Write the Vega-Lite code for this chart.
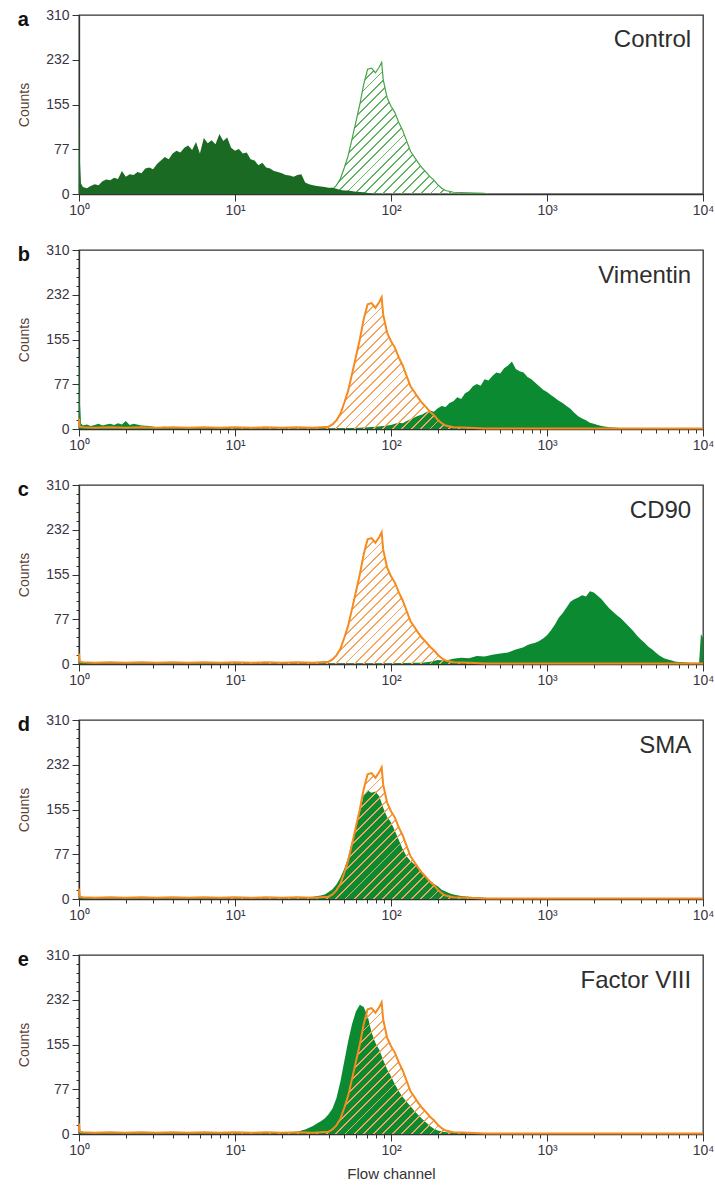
{
"$schema":"https://vega.github.io/schema/vega-lite/v6.json",
"background":"white",
"padding":{"left":16,"top":7,"right":5,"bottom":5},
"spacing":24,
"datasets":{
"iso":[{"channel":1,"count":18},{"channel":1.012,"count":4},{"channel":1.059,"count":3},{"channel":1.259,"count":2},{"channel":1.585,"count":3},{"channel":1.995,"count":2},{"channel":2.512,"count":3},{"channel":3.162,"count":2},{"channel":3.981,"count":3},{"channel":5.012,"count":2},{"channel":6.31,"count":3},{"channel":7.943,"count":2},{"channel":10,"count":3},{"channel":12.59,"count":2},{"channel":15.85,"count":3},{"channel":19.95,"count":2},{"channel":25.12,"count":3},{"channel":31.62,"count":2},{"channel":35.48,"count":3},{"channel":39.81,"count":4},{"channel":42.17,"count":8},{"channel":44.67,"count":15},{"channel":47.32,"count":26},{"channel":50.12,"count":45},{"channel":53.09,"count":66},{"channel":56.23,"count":95},{"channel":59.57,"count":125},{"channel":63.1,"count":155},{"channel":66.83,"count":190},{"channel":70.79,"count":216},{"channel":74.99,"count":218},{"channel":79.43,"count":210},{"channel":84.14,"count":220},{"channel":87.1,"count":228},{"channel":89.13,"count":198},{"channel":94.41,"count":167},{"channel":100,"count":152},{"channel":105.9,"count":141},{"channel":112.2,"count":124},{"channel":118.9,"count":110},{"channel":125.9,"count":92},{"channel":133.4,"count":74},{"channel":141.3,"count":64},{"channel":149.6,"count":54},{"channel":158.5,"count":45},{"channel":167.9,"count":38},{"channel":177.8,"count":30},{"channel":188.4,"count":24},{"channel":199.5,"count":16},{"channel":211.3,"count":10},{"channel":223.9,"count":6},{"channel":251.2,"count":3},{"channel":316.2,"count":2},{"channel":398.1,"count":1},{"channel":631,"count":1},{"channel":1000,"count":1},{"channel":3162,"count":1},{"channel":10000,"count":1}],
"a":[{"channel":1,"count":161},{"channel":1.012,"count":62},{"channel":1.03,"count":18},{"channel":1.059,"count":12},{"channel":1.122,"count":10},{"channel":1.189,"count":14},{"channel":1.259,"count":17},{"channel":1.334,"count":15},{"channel":1.413,"count":22},{"channel":1.496,"count":25},{"channel":1.585,"count":24},{"channel":1.679,"count":28},{"channel":1.778,"count":26},{"channel":1.884,"count":40},{"channel":1.995,"count":30},{"channel":2.113,"count":34},{"channel":2.239,"count":33},{"channel":2.371,"count":38},{"channel":2.512,"count":36},{"channel":2.661,"count":44},{"channel":2.818,"count":46},{"channel":2.985,"count":43},{"channel":3.162,"count":52},{"channel":3.35,"count":58},{"channel":3.548,"count":64},{"channel":3.758,"count":60},{"channel":3.981,"count":70},{"channel":4.217,"count":75},{"channel":4.467,"count":72},{"channel":4.732,"count":80},{"channel":5.012,"count":84},{"channel":5.309,"count":76},{"channel":5.623,"count":90},{"channel":5.957,"count":70},{"channel":6.31,"count":97},{"channel":6.683,"count":88},{"channel":7.079,"count":93},{"channel":7.499,"count":86},{"channel":7.943,"count":104},{"channel":8.414,"count":92},{"channel":8.913,"count":98},{"channel":9.441,"count":80},{"channel":10,"count":75},{"channel":10.59,"count":78},{"channel":11.22,"count":70},{"channel":11.89,"count":72},{"channel":12.59,"count":60},{"channel":13.34,"count":58},{"channel":14.13,"count":50},{"channel":14.96,"count":54},{"channel":15.85,"count":46},{"channel":16.79,"count":44},{"channel":17.78,"count":40},{"channel":18.84,"count":38},{"channel":19.95,"count":36},{"channel":21.13,"count":33},{"channel":22.39,"count":32},{"channel":23.71,"count":30},{"channel":25.12,"count":33},{"channel":26.61,"count":34},{"channel":28.18,"count":20},{"channel":29.85,"count":17},{"channel":31.62,"count":15},{"channel":33.5,"count":14},{"channel":35.48,"count":13},{"channel":37.58,"count":12},{"channel":39.81,"count":11},{"channel":42.17,"count":11},{"channel":44.67,"count":9},{"channel":47.32,"count":7},{"channel":50.12,"count":6},{"channel":53.09,"count":6},{"channel":59.57,"count":4},{"channel":66.83,"count":3},{"channel":74.99,"count":1},{"channel":84.14,"count":0},{"channel":10000,"count":0}],
"b":[{"channel":1,"count":141},{"channel":1.012,"count":50},{"channel":1.03,"count":10},{"channel":1.059,"count":6},{"channel":1.122,"count":8},{"channel":1.189,"count":5},{"channel":1.259,"count":7},{"channel":1.334,"count":9},{"channel":1.413,"count":6},{"channel":1.496,"count":8},{"channel":1.585,"count":9},{"channel":1.679,"count":7},{"channel":1.778,"count":10},{"channel":1.884,"count":8},{"channel":1.995,"count":14},{"channel":2.113,"count":7},{"channel":2.239,"count":9},{"channel":2.512,"count":6},{"channel":2.818,"count":5},{"channel":3.162,"count":3},{"channel":3.548,"count":4},{"channel":3.981,"count":2},{"channel":5.012,"count":1},{"channel":6.31,"count":2},{"channel":7.943,"count":1},{"channel":10,"count":2},{"channel":15.85,"count":1},{"channel":25.12,"count":1},{"channel":39.81,"count":1},{"channel":63.1,"count":2},{"channel":70.79,"count":3},{"channel":79.43,"count":4},{"channel":89.13,"count":5},{"channel":100,"count":7},{"channel":105.9,"count":9},{"channel":112.2,"count":11},{"channel":118.9,"count":10},{"channel":125.9,"count":14},{"channel":133.4,"count":17},{"channel":141.3,"count":20},{"channel":149.6,"count":23},{"channel":158.5,"count":25},{"channel":167.9,"count":29},{"channel":177.8,"count":32},{"channel":188.4,"count":30},{"channel":199.5,"count":36},{"channel":211.3,"count":40},{"channel":223.9,"count":38},{"channel":237.1,"count":45},{"channel":251.2,"count":48},{"channel":266.1,"count":55},{"channel":281.8,"count":52},{"channel":298.5,"count":62},{"channel":316.2,"count":66},{"channel":335,"count":74},{"channel":354.8,"count":78},{"channel":375.8,"count":75},{"channel":398.1,"count":86},{"channel":421.7,"count":84},{"channel":446.7,"count":92},{"channel":473.2,"count":98},{"channel":501.2,"count":96},{"channel":530.9,"count":105},{"channel":562.3,"count":110},{"channel":595.7,"count":117},{"channel":631,"count":104},{"channel":668.3,"count":100},{"channel":707.9,"count":98},{"channel":749.9,"count":90},{"channel":794.3,"count":86},{"channel":841.4,"count":80},{"channel":891.3,"count":74},{"channel":944.1,"count":68},{"channel":1000,"count":64},{"channel":1059,"count":59},{"channel":1122,"count":54},{"channel":1189,"count":49},{"channel":1259,"count":45},{"channel":1334,"count":40},{"channel":1413,"count":35},{"channel":1496,"count":28},{"channel":1585,"count":22},{"channel":1679,"count":18},{"channel":1778,"count":15},{"channel":1884,"count":11},{"channel":1995,"count":9},{"channel":2113,"count":7},{"channel":2239,"count":5},{"channel":2512,"count":3},{"channel":2818,"count":2},{"channel":3162,"count":1},{"channel":3981,"count":0},{"channel":10000,"count":0}],
"c":[{"channel":1,"count":2},{"channel":1.259,"count":1},{"channel":3.162,"count":1},{"channel":10,"count":1},{"channel":31.62,"count":1},{"channel":100,"count":1},{"channel":141.3,"count":2},{"channel":158.5,"count":2},{"channel":177.8,"count":4},{"channel":199.5,"count":7},{"channel":223.9,"count":6},{"channel":251.2,"count":9},{"channel":281.8,"count":11},{"channel":316.2,"count":10},{"channel":354.8,"count":14},{"channel":398.1,"count":13},{"channel":446.7,"count":16},{"channel":501.2,"count":18},{"channel":562.3,"count":20},{"channel":631,"count":25},{"channel":707.9,"count":29},{"channel":749.9,"count":33},{"channel":794.3,"count":35},{"channel":841.4,"count":37},{"channel":891.3,"count":40},{"channel":944.1,"count":44},{"channel":1000,"count":50},{"channel":1059,"count":58},{"channel":1122,"count":68},{"channel":1189,"count":80},{"channel":1259,"count":88},{"channel":1334,"count":98},{"channel":1413,"count":108},{"channel":1496,"count":112},{"channel":1585,"count":115},{"channel":1679,"count":119},{"channel":1778,"count":117},{"channel":1884,"count":126},{"channel":1995,"count":124},{"channel":2113,"count":118},{"channel":2239,"count":112},{"channel":2371,"count":104},{"channel":2512,"count":96},{"channel":2661,"count":90},{"channel":2818,"count":84},{"channel":2985,"count":79},{"channel":3162,"count":72},{"channel":3350,"count":65},{"channel":3548,"count":58},{"channel":3758,"count":50},{"channel":3981,"count":43},{"channel":4217,"count":37},{"channel":4467,"count":30},{"channel":4732,"count":25},{"channel":5012,"count":19},{"channel":5309,"count":14},{"channel":5623,"count":10},{"channel":5957,"count":8},{"channel":6310,"count":6},{"channel":6683,"count":4},{"channel":7499,"count":3},{"channel":8414,"count":2},{"channel":9441,"count":2},{"channel":9700,"count":52},{"channel":10000,"count":45}],
"d":[{"channel":1,"count":3},{"channel":1.059,"count":1},{"channel":3.162,"count":1},{"channel":10,"count":1},{"channel":19.95,"count":1},{"channel":25.12,"count":2},{"channel":28.18,"count":3},{"channel":31.62,"count":4},{"channel":35.48,"count":6},{"channel":37.58,"count":8},{"channel":39.81,"count":12},{"channel":42.17,"count":17},{"channel":44.67,"count":25},{"channel":47.32,"count":37},{"channel":50.12,"count":52},{"channel":53.09,"count":72},{"channel":56.23,"count":100},{"channel":59.57,"count":125},{"channel":63.1,"count":150},{"channel":66.83,"count":180},{"channel":70.79,"count":188},{"channel":74.99,"count":184},{"channel":79.43,"count":186},{"channel":84.14,"count":178},{"channel":89.13,"count":158},{"channel":94.41,"count":142},{"channel":100,"count":133},{"channel":105.9,"count":118},{"channel":112.2,"count":102},{"channel":118.9,"count":86},{"channel":125.9,"count":74},{"channel":133.4,"count":66},{"channel":141.3,"count":60},{"channel":149.6,"count":56},{"channel":158.5,"count":46},{"channel":167.9,"count":38},{"channel":177.8,"count":32},{"channel":188.4,"count":26},{"channel":199.5,"count":22},{"channel":211.3,"count":16},{"channel":223.9,"count":13},{"channel":237.1,"count":10},{"channel":251.2,"count":8},{"channel":281.8,"count":5},{"channel":316.2,"count":4},{"channel":354.8,"count":3},{"channel":398.1,"count":2},{"channel":446.7,"count":1},{"channel":562.3,"count":1},{"channel":707.9,"count":0},{"channel":10000,"count":0}],
"e":[{"channel":1,"count":2},{"channel":1.059,"count":1},{"channel":3.162,"count":1},{"channel":10,"count":1},{"channel":19.95,"count":2},{"channel":25.12,"count":4},{"channel":26.61,"count":6},{"channel":28.18,"count":8},{"channel":29.85,"count":11},{"channel":31.62,"count":14},{"channel":33.5,"count":18},{"channel":35.48,"count":22},{"channel":37.58,"count":27},{"channel":39.81,"count":34},{"channel":42.17,"count":44},{"channel":44.67,"count":62},{"channel":47.32,"count":90},{"channel":50.12,"count":125},{"channel":53.09,"count":160},{"channel":56.23,"count":190},{"channel":59.57,"count":212},{"channel":63.1,"count":224},{"channel":66.83,"count":220},{"channel":70.79,"count":205},{"channel":74.99,"count":176},{"channel":79.43,"count":158},{"channel":84.14,"count":146},{"channel":89.13,"count":128},{"channel":94.41,"count":112},{"channel":100,"count":100},{"channel":105.9,"count":86},{"channel":112.2,"count":74},{"channel":118.9,"count":64},{"channel":125.9,"count":56},{"channel":133.4,"count":48},{"channel":141.3,"count":40},{"channel":149.6,"count":33},{"channel":158.5,"count":26},{"channel":167.9,"count":20},{"channel":177.8,"count":14},{"channel":188.4,"count":9},{"channel":199.5,"count":6},{"channel":223.9,"count":3},{"channel":251.2,"count":2},{"channel":316.2,"count":1},{"channel":398.1,"count":0},{"channel":10000,"count":0}]
},
"config":{
"view":{"stroke":"#333333","strokeWidth":1.3},
"axis":{"labelFont":"Liberation Sans","labelFontSize":14,"labelColor":"#3b3444","tickColor":"#333333","tickWidth":1,"domainColor":"#333333","domainWidth":1.3,"titleFont":"Liberation Sans","titleFontSize":14,"titleFontWeight":"normal","titleColor":"#5a4236","titlePadding":14,"grid":false,"zindex":1},
"axisX":{"labelFlush":false,"labelOverlap":false,"labelPadding":2},
"axisY":{"labelPadding":3},
"title":{"anchor":"start","frame":"bounds","font":"Liberation Sans","fontSize":20,"fontWeight":"bold","color":"#111111","offset":0,"baseline":"alphabetic","dy":26},
"text":{"font":"Liberation Sans","fontSize":24,"color":"#2e2e2e","align":"right","baseline":"alphabetic"}
},
"vconcat":[
{"width":624,"height":179,"title":{"text":"a"},
"layer":[
{"encoding":{"x":{"field":"channel","type":"quantitative","title":null,"scale":{"type":"log","domain":[1,10000],"nice":false},"axis":{"values":[1,10,100,1000,10000],"labelExpr":"datum.value == 1 ? '10⁰' : datum.value == 10 ? '10¹' : datum.value == 100 ? '10²' : datum.value == 1000 ? '10³' : '10⁴'","tickSize":7}},
"y":{"field":"count","type":"quantitative","title":"Counts","scale":{"domain":[0,310],"nice":false},"axis":{"values":[0,77.5,155,232.5,310],"labelExpr":"'' + floor(datum.value)","tickSize":7}}},
"layer":[
{"data":{"name":"iso"},"mark":{"type":"area","fill":{"gradient":"linear","x1":0,"y1":0,"x2":1.1593,"y2":0.2445,"stops":[{"offset":0,"color":"transparent"},{"offset":0.375,"color":"transparent"},{"offset":0.375,"color":"#62b462"},{"offset":0.3775,"color":"#62b462"},{"offset":0.3775,"color":"transparent"},{"offset":0.3875,"color":"transparent"},{"offset":0.3875,"color":"#62b462"},{"offset":0.39,"color":"#62b462"},{"offset":0.39,"color":"transparent"},{"offset":0.4,"color":"transparent"},{"offset":0.4,"color":"#62b462"},{"offset":0.4025,"color":"#62b462"},{"offset":0.4025,"color":"transparent"},{"offset":0.4125,"color":"transparent"},{"offset":0.4125,"color":"#62b462"},{"offset":0.415,"color":"#62b462"},{"offset":0.415,"color":"transparent"},{"offset":0.425,"color":"transparent"},{"offset":0.425,"color":"#62b462"},{"offset":0.4275,"color":"#62b462"},{"offset":0.4275,"color":"transparent"},{"offset":0.4375,"color":"transparent"},{"offset":0.4375,"color":"#62b462"},{"offset":0.44,"color":"#62b462"},{"offset":0.44,"color":"transparent"},{"offset":0.45,"color":"transparent"},{"offset":0.45,"color":"#62b462"},{"offset":0.4525,"color":"#62b462"},{"offset":0.4525,"color":"transparent"},{"offset":0.4625,"color":"transparent"},{"offset":0.4625,"color":"#62b462"},{"offset":0.465,"color":"#62b462"},{"offset":0.465,"color":"transparent"},{"offset":0.475,"color":"transparent"},{"offset":0.475,"color":"#62b462"},{"offset":0.4775,"color":"#62b462"},{"offset":0.4775,"color":"transparent"},{"offset":0.4875,"color":"transparent"},{"offset":0.4875,"color":"#62b462"},{"offset":0.49,"color":"#62b462"},{"offset":0.49,"color":"transparent"},{"offset":0.5,"color":"transparent"},{"offset":0.5,"color":"#62b462"},{"offset":0.5025,"color":"#62b462"},{"offset":0.5025,"color":"transparent"},{"offset":0.5125,"color":"transparent"},{"offset":0.5125,"color":"#62b462"},{"offset":0.515,"color":"#62b462"},{"offset":0.515,"color":"transparent"},{"offset":0.525,"color":"transparent"},{"offset":0.525,"color":"#62b462"},{"offset":0.5275,"color":"#62b462"},{"offset":0.5275,"color":"transparent"},{"offset":0.5375,"color":"transparent"},{"offset":0.5375,"color":"#62b462"},{"offset":0.54,"color":"#62b462"},{"offset":0.54,"color":"transparent"},{"offset":0.55,"color":"transparent"},{"offset":0.55,"color":"#62b462"},{"offset":0.5525,"color":"#62b462"},{"offset":0.5525,"color":"transparent"},{"offset":0.5625,"color":"transparent"},{"offset":0.5625,"color":"#62b462"},{"offset":0.565,"color":"#62b462"},{"offset":0.565,"color":"transparent"},{"offset":0.575,"color":"transparent"},{"offset":0.575,"color":"#62b462"},{"offset":0.5775,"color":"#62b462"},{"offset":0.5775,"color":"transparent"},{"offset":0.5875,"color":"transparent"},{"offset":0.5875,"color":"#62b462"},{"offset":0.59,"color":"#62b462"},{"offset":0.59,"color":"transparent"},{"offset":0.6,"color":"transparent"},{"offset":0.6,"color":"#62b462"},{"offset":0.6025,"color":"#62b462"},{"offset":0.6025,"color":"transparent"},{"offset":0.6125,"color":"transparent"},{"offset":0.6125,"color":"#62b462"},{"offset":0.615,"color":"#62b462"},{"offset":0.615,"color":"transparent"},{"offset":0.625,"color":"transparent"},{"offset":0.625,"color":"#62b462"},{"offset":0.6275,"color":"#62b462"},{"offset":0.6275,"color":"transparent"},{"offset":0.6375,"color":"transparent"},{"offset":0.6375,"color":"#62b462"},{"offset":0.64,"color":"#62b462"},{"offset":0.64,"color":"transparent"},{"offset":0.65,"color":"transparent"},{"offset":0.65,"color":"#62b462"},{"offset":0.6525,"color":"#62b462"},{"offset":0.6525,"color":"transparent"},{"offset":0.6625,"color":"transparent"},{"offset":0.6625,"color":"#62b462"},{"offset":0.665,"color":"#62b462"},{"offset":0.665,"color":"transparent"},{"offset":0.675,"color":"transparent"},{"offset":0.675,"color":"#62b462"},{"offset":0.6775,"color":"#62b462"},{"offset":0.6775,"color":"transparent"},{"offset":0.6875,"color":"transparent"},{"offset":0.6875,"color":"#62b462"},{"offset":0.69,"color":"#62b462"},{"offset":0.69,"color":"transparent"},{"offset":0.7,"color":"transparent"},{"offset":0.7,"color":"#62b462"},{"offset":0.7025,"color":"#62b462"},{"offset":0.7025,"color":"transparent"},{"offset":0.7125,"color":"transparent"},{"offset":0.7125,"color":"#62b462"},{"offset":0.715,"color":"#62b462"},{"offset":0.715,"color":"transparent"},{"offset":1,"color":"transparent"}]}}},
{"data":{"name":"iso"},"transform":[{"filter":"datum.channel <= 400"}],"mark":{"type":"line","color":"#45a345","strokeWidth":1.2}},
{"data":{"name":"a"},"mark":{"type":"area","color":"#1b6a23"}}
]},
{"data":{"values":[{"label":"Control"}]},"mark":{"type":"text"},"encoding":{"x":{"datum":8400,"type":"quantitative","title":null,"scale":{"type":"log","domain":[1,10000],"nice":false},"axis":{"values":[1,10,100,1000,10000],"labelExpr":"datum.value == 1 ? '10⁰' : datum.value == 10 ? '10¹' : datum.value == 100 ? '10²' : datum.value == 1000 ? '10³' : '10⁴'","tickSize":7}},"y":{"datum":255,"type":"quantitative","title":"Counts","scale":{"domain":[0,310],"nice":false},"axis":{"values":[0,77.5,155,232.5,310],"labelExpr":"'' + floor(datum.value)","tickSize":7}},"text":{"field":"label"}}}
]},
{"width":624,"height":179,"title":{"text":"b"},
"layer":[
{"encoding":{"x":{"field":"channel","type":"quantitative","title":null,"scale":{"type":"log","domain":[1,10000],"nice":false},"axis":{"values":[1,2,3,4,5,6,7,8,9,10,20,30,40,50,60,70,80,90,100,200,300,400,500,600,700,800,900,1000,2000,3000,4000,5000,6000,7000,8000,9000,10000],"labelExpr":"datum.value == 1 ? '10⁰' : datum.value == 10 ? '10¹' : datum.value == 100 ? '10²' : datum.value == 1000 ? '10³' : datum.value == 10000 ? '10⁴' : ''","tickSize":{"condition":{"test":"datum.value == 1 || datum.value == 10 || datum.value == 100 || datum.value == 1000 || datum.value == 10000","value":7},"value":4}}},
"y":{"field":"count","type":"quantitative","title":"Counts","scale":{"domain":[0,310],"nice":false},"axis":{"values":[0,15.5,31,46.5,62,77.5,93,108.5,124,139.5,155,170.5,186,201.5,217,232.5,248,263.5,279,294.5,310],"labelExpr":"datum.value % 77.5 == 0 ? '' + floor(datum.value) : ''","tickSize":{"condition":{"test":"datum.value % 77.5 == 0","value":7},"value":3}}}},
"layer":[
{"data":{"name":"b"},"mark":{"type":"area","color":"#0b8a31"}},
{"data":{"name":"iso"},"mark":{"type":"area","fill":{"gradient":"linear","x1":0,"y1":0,"x2":1.1593,"y2":0.2445,"stops":[{"offset":0,"color":"transparent"},{"offset":0.375,"color":"transparent"},{"offset":0.375,"color":"#f6a45c"},{"offset":0.3775,"color":"#f6a45c"},{"offset":0.3775,"color":"transparent"},{"offset":0.3875,"color":"transparent"},{"offset":0.3875,"color":"#f6a45c"},{"offset":0.39,"color":"#f6a45c"},{"offset":0.39,"color":"transparent"},{"offset":0.4,"color":"transparent"},{"offset":0.4,"color":"#f6a45c"},{"offset":0.4025,"color":"#f6a45c"},{"offset":0.4025,"color":"transparent"},{"offset":0.4125,"color":"transparent"},{"offset":0.4125,"color":"#f6a45c"},{"offset":0.415,"color":"#f6a45c"},{"offset":0.415,"color":"transparent"},{"offset":0.425,"color":"transparent"},{"offset":0.425,"color":"#f6a45c"},{"offset":0.4275,"color":"#f6a45c"},{"offset":0.4275,"color":"transparent"},{"offset":0.4375,"color":"transparent"},{"offset":0.4375,"color":"#f6a45c"},{"offset":0.44,"color":"#f6a45c"},{"offset":0.44,"color":"transparent"},{"offset":0.45,"color":"transparent"},{"offset":0.45,"color":"#f6a45c"},{"offset":0.4525,"color":"#f6a45c"},{"offset":0.4525,"color":"transparent"},{"offset":0.4625,"color":"transparent"},{"offset":0.4625,"color":"#f6a45c"},{"offset":0.465,"color":"#f6a45c"},{"offset":0.465,"color":"transparent"},{"offset":0.475,"color":"transparent"},{"offset":0.475,"color":"#f6a45c"},{"offset":0.4775,"color":"#f6a45c"},{"offset":0.4775,"color":"transparent"},{"offset":0.4875,"color":"transparent"},{"offset":0.4875,"color":"#f6a45c"},{"offset":0.49,"color":"#f6a45c"},{"offset":0.49,"color":"transparent"},{"offset":0.5,"color":"transparent"},{"offset":0.5,"color":"#f6a45c"},{"offset":0.5025,"color":"#f6a45c"},{"offset":0.5025,"color":"transparent"},{"offset":0.5125,"color":"transparent"},{"offset":0.5125,"color":"#f6a45c"},{"offset":0.515,"color":"#f6a45c"},{"offset":0.515,"color":"transparent"},{"offset":0.525,"color":"transparent"},{"offset":0.525,"color":"#f6a45c"},{"offset":0.5275,"color":"#f6a45c"},{"offset":0.5275,"color":"transparent"},{"offset":0.5375,"color":"transparent"},{"offset":0.5375,"color":"#f6a45c"},{"offset":0.54,"color":"#f6a45c"},{"offset":0.54,"color":"transparent"},{"offset":0.55,"color":"transparent"},{"offset":0.55,"color":"#f6a45c"},{"offset":0.5525,"color":"#f6a45c"},{"offset":0.5525,"color":"transparent"},{"offset":0.5625,"color":"transparent"},{"offset":0.5625,"color":"#f6a45c"},{"offset":0.565,"color":"#f6a45c"},{"offset":0.565,"color":"transparent"},{"offset":0.575,"color":"transparent"},{"offset":0.575,"color":"#f6a45c"},{"offset":0.5775,"color":"#f6a45c"},{"offset":0.5775,"color":"transparent"},{"offset":0.5875,"color":"transparent"},{"offset":0.5875,"color":"#f6a45c"},{"offset":0.59,"color":"#f6a45c"},{"offset":0.59,"color":"transparent"},{"offset":0.6,"color":"transparent"},{"offset":0.6,"color":"#f6a45c"},{"offset":0.6025,"color":"#f6a45c"},{"offset":0.6025,"color":"transparent"},{"offset":0.6125,"color":"transparent"},{"offset":0.6125,"color":"#f6a45c"},{"offset":0.615,"color":"#f6a45c"},{"offset":0.615,"color":"transparent"},{"offset":0.625,"color":"transparent"},{"offset":0.625,"color":"#f6a45c"},{"offset":0.6275,"color":"#f6a45c"},{"offset":0.6275,"color":"transparent"},{"offset":0.6375,"color":"transparent"},{"offset":0.6375,"color":"#f6a45c"},{"offset":0.64,"color":"#f6a45c"},{"offset":0.64,"color":"transparent"},{"offset":0.65,"color":"transparent"},{"offset":0.65,"color":"#f6a45c"},{"offset":0.6525,"color":"#f6a45c"},{"offset":0.6525,"color":"transparent"},{"offset":0.6625,"color":"transparent"},{"offset":0.6625,"color":"#f6a45c"},{"offset":0.665,"color":"#f6a45c"},{"offset":0.665,"color":"transparent"},{"offset":0.675,"color":"transparent"},{"offset":0.675,"color":"#f6a45c"},{"offset":0.6775,"color":"#f6a45c"},{"offset":0.6775,"color":"transparent"},{"offset":0.6875,"color":"transparent"},{"offset":0.6875,"color":"#f6a45c"},{"offset":0.69,"color":"#f6a45c"},{"offset":0.69,"color":"transparent"},{"offset":0.7,"color":"transparent"},{"offset":0.7,"color":"#f6a45c"},{"offset":0.7025,"color":"#f6a45c"},{"offset":0.7025,"color":"transparent"},{"offset":0.7125,"color":"transparent"},{"offset":0.7125,"color":"#f6a45c"},{"offset":0.715,"color":"#f6a45c"},{"offset":0.715,"color":"transparent"},{"offset":1,"color":"transparent"}]}}},
{"data":{"name":"iso"},"mark":{"type":"line","color":"#f58a1f","strokeWidth":2}}
]},
{"data":{"values":[{"label":"Vimentin"}]},"mark":{"type":"text"},"encoding":{"x":{"datum":8400,"type":"quantitative","title":null,"scale":{"type":"log","domain":[1,10000],"nice":false},"axis":{"values":[1,2,3,4,5,6,7,8,9,10,20,30,40,50,60,70,80,90,100,200,300,400,500,600,700,800,900,1000,2000,3000,4000,5000,6000,7000,8000,9000,10000],"labelExpr":"datum.value == 1 ? '10⁰' : datum.value == 10 ? '10¹' : datum.value == 100 ? '10²' : datum.value == 1000 ? '10³' : datum.value == 10000 ? '10⁴' : ''","tickSize":{"condition":{"test":"datum.value == 1 || datum.value == 10 || datum.value == 100 || datum.value == 1000 || datum.value == 10000","value":7},"value":4}}},"y":{"datum":252,"type":"quantitative","title":"Counts","scale":{"domain":[0,310],"nice":false},"axis":{"values":[0,15.5,31,46.5,62,77.5,93,108.5,124,139.5,155,170.5,186,201.5,217,232.5,248,263.5,279,294.5,310],"labelExpr":"datum.value % 77.5 == 0 ? '' + floor(datum.value) : ''","tickSize":{"condition":{"test":"datum.value % 77.5 == 0","value":7},"value":3}}},"text":{"field":"label"}}}
]},
{"width":624,"height":179,"title":{"text":"c"},
"layer":[
{"encoding":{"x":{"field":"channel","type":"quantitative","title":null,"scale":{"type":"log","domain":[1,10000],"nice":false},"axis":{"values":[1,2,3,4,5,6,7,8,9,10,20,30,40,50,60,70,80,90,100,200,300,400,500,600,700,800,900,1000,2000,3000,4000,5000,6000,7000,8000,9000,10000],"labelExpr":"datum.value == 1 ? '10⁰' : datum.value == 10 ? '10¹' : datum.value == 100 ? '10²' : datum.value == 1000 ? '10³' : datum.value == 10000 ? '10⁴' : ''","tickSize":{"condition":{"test":"datum.value == 1 || datum.value == 10 || datum.value == 100 || datum.value == 1000 || datum.value == 10000","value":7},"value":4}}},
"y":{"field":"count","type":"quantitative","title":"Counts","scale":{"domain":[0,310],"nice":false},"axis":{"values":[0,15.5,31,46.5,62,77.5,93,108.5,124,139.5,155,170.5,186,201.5,217,232.5,248,263.5,279,294.5,310],"labelExpr":"datum.value % 77.5 == 0 ? '' + floor(datum.value) : ''","tickSize":{"condition":{"test":"datum.value % 77.5 == 0","value":7},"value":3}}}},
"layer":[
{"data":{"name":"c"},"mark":{"type":"area","color":"#0b8a31"}},
{"data":{"name":"iso"},"mark":{"type":"area","fill":{"gradient":"linear","x1":0,"y1":0,"x2":1.1593,"y2":0.2445,"stops":[{"offset":0,"color":"transparent"},{"offset":0.375,"color":"transparent"},{"offset":0.375,"color":"#f6a45c"},{"offset":0.3775,"color":"#f6a45c"},{"offset":0.3775,"color":"transparent"},{"offset":0.3875,"color":"transparent"},{"offset":0.3875,"color":"#f6a45c"},{"offset":0.39,"color":"#f6a45c"},{"offset":0.39,"color":"transparent"},{"offset":0.4,"color":"transparent"},{"offset":0.4,"color":"#f6a45c"},{"offset":0.4025,"color":"#f6a45c"},{"offset":0.4025,"color":"transparent"},{"offset":0.4125,"color":"transparent"},{"offset":0.4125,"color":"#f6a45c"},{"offset":0.415,"color":"#f6a45c"},{"offset":0.415,"color":"transparent"},{"offset":0.425,"color":"transparent"},{"offset":0.425,"color":"#f6a45c"},{"offset":0.4275,"color":"#f6a45c"},{"offset":0.4275,"color":"transparent"},{"offset":0.4375,"color":"transparent"},{"offset":0.4375,"color":"#f6a45c"},{"offset":0.44,"color":"#f6a45c"},{"offset":0.44,"color":"transparent"},{"offset":0.45,"color":"transparent"},{"offset":0.45,"color":"#f6a45c"},{"offset":0.4525,"color":"#f6a45c"},{"offset":0.4525,"color":"transparent"},{"offset":0.4625,"color":"transparent"},{"offset":0.4625,"color":"#f6a45c"},{"offset":0.465,"color":"#f6a45c"},{"offset":0.465,"color":"transparent"},{"offset":0.475,"color":"transparent"},{"offset":0.475,"color":"#f6a45c"},{"offset":0.4775,"color":"#f6a45c"},{"offset":0.4775,"color":"transparent"},{"offset":0.4875,"color":"transparent"},{"offset":0.4875,"color":"#f6a45c"},{"offset":0.49,"color":"#f6a45c"},{"offset":0.49,"color":"transparent"},{"offset":0.5,"color":"transparent"},{"offset":0.5,"color":"#f6a45c"},{"offset":0.5025,"color":"#f6a45c"},{"offset":0.5025,"color":"transparent"},{"offset":0.5125,"color":"transparent"},{"offset":0.5125,"color":"#f6a45c"},{"offset":0.515,"color":"#f6a45c"},{"offset":0.515,"color":"transparent"},{"offset":0.525,"color":"transparent"},{"offset":0.525,"color":"#f6a45c"},{"offset":0.5275,"color":"#f6a45c"},{"offset":0.5275,"color":"transparent"},{"offset":0.5375,"color":"transparent"},{"offset":0.5375,"color":"#f6a45c"},{"offset":0.54,"color":"#f6a45c"},{"offset":0.54,"color":"transparent"},{"offset":0.55,"color":"transparent"},{"offset":0.55,"color":"#f6a45c"},{"offset":0.5525,"color":"#f6a45c"},{"offset":0.5525,"color":"transparent"},{"offset":0.5625,"color":"transparent"},{"offset":0.5625,"color":"#f6a45c"},{"offset":0.565,"color":"#f6a45c"},{"offset":0.565,"color":"transparent"},{"offset":0.575,"color":"transparent"},{"offset":0.575,"color":"#f6a45c"},{"offset":0.5775,"color":"#f6a45c"},{"offset":0.5775,"color":"transparent"},{"offset":0.5875,"color":"transparent"},{"offset":0.5875,"color":"#f6a45c"},{"offset":0.59,"color":"#f6a45c"},{"offset":0.59,"color":"transparent"},{"offset":0.6,"color":"transparent"},{"offset":0.6,"color":"#f6a45c"},{"offset":0.6025,"color":"#f6a45c"},{"offset":0.6025,"color":"transparent"},{"offset":0.6125,"color":"transparent"},{"offset":0.6125,"color":"#f6a45c"},{"offset":0.615,"color":"#f6a45c"},{"offset":0.615,"color":"transparent"},{"offset":0.625,"color":"transparent"},{"offset":0.625,"color":"#f6a45c"},{"offset":0.6275,"color":"#f6a45c"},{"offset":0.6275,"color":"transparent"},{"offset":0.6375,"color":"transparent"},{"offset":0.6375,"color":"#f6a45c"},{"offset":0.64,"color":"#f6a45c"},{"offset":0.64,"color":"transparent"},{"offset":0.65,"color":"transparent"},{"offset":0.65,"color":"#f6a45c"},{"offset":0.6525,"color":"#f6a45c"},{"offset":0.6525,"color":"transparent"},{"offset":0.6625,"color":"transparent"},{"offset":0.6625,"color":"#f6a45c"},{"offset":0.665,"color":"#f6a45c"},{"offset":0.665,"color":"transparent"},{"offset":0.675,"color":"transparent"},{"offset":0.675,"color":"#f6a45c"},{"offset":0.6775,"color":"#f6a45c"},{"offset":0.6775,"color":"transparent"},{"offset":0.6875,"color":"transparent"},{"offset":0.6875,"color":"#f6a45c"},{"offset":0.69,"color":"#f6a45c"},{"offset":0.69,"color":"transparent"},{"offset":0.7,"color":"transparent"},{"offset":0.7,"color":"#f6a45c"},{"offset":0.7025,"color":"#f6a45c"},{"offset":0.7025,"color":"transparent"},{"offset":0.7125,"color":"transparent"},{"offset":0.7125,"color":"#f6a45c"},{"offset":0.715,"color":"#f6a45c"},{"offset":0.715,"color":"transparent"},{"offset":1,"color":"transparent"}]}}},
{"data":{"name":"iso"},"mark":{"type":"line","color":"#f58a1f","strokeWidth":2}}
]},
{"data":{"values":[{"label":"CD90"}]},"mark":{"type":"text"},"encoding":{"x":{"datum":8400,"type":"quantitative","title":null,"scale":{"type":"log","domain":[1,10000],"nice":false},"axis":{"values":[1,2,3,4,5,6,7,8,9,10,20,30,40,50,60,70,80,90,100,200,300,400,500,600,700,800,900,1000,2000,3000,4000,5000,6000,7000,8000,9000,10000],"labelExpr":"datum.value == 1 ? '10⁰' : datum.value == 10 ? '10¹' : datum.value == 100 ? '10²' : datum.value == 1000 ? '10³' : datum.value == 10000 ? '10⁴' : ''","tickSize":{"condition":{"test":"datum.value == 1 || datum.value == 10 || datum.value == 100 || datum.value == 1000 || datum.value == 10000","value":7},"value":4}}},"y":{"datum":252,"type":"quantitative","title":"Counts","scale":{"domain":[0,310],"nice":false},"axis":{"values":[0,15.5,31,46.5,62,77.5,93,108.5,124,139.5,155,170.5,186,201.5,217,232.5,248,263.5,279,294.5,310],"labelExpr":"datum.value % 77.5 == 0 ? '' + floor(datum.value) : ''","tickSize":{"condition":{"test":"datum.value % 77.5 == 0","value":7},"value":3}}},"text":{"field":"label"}}}
]},
{"width":624,"height":179,"title":{"text":"d"},
"layer":[
{"encoding":{"x":{"field":"channel","type":"quantitative","title":null,"scale":{"type":"log","domain":[1,10000],"nice":false},"axis":{"values":[1,2,3,4,5,6,7,8,9,10,20,30,40,50,60,70,80,90,100,200,300,400,500,600,700,800,900,1000,2000,3000,4000,5000,6000,7000,8000,9000,10000],"labelExpr":"datum.value == 1 ? '10⁰' : datum.value == 10 ? '10¹' : datum.value == 100 ? '10²' : datum.value == 1000 ? '10³' : datum.value == 10000 ? '10⁴' : ''","tickSize":{"condition":{"test":"datum.value == 1 || datum.value == 10 || datum.value == 100 || datum.value == 1000 || datum.value == 10000","value":7},"value":4}}},
"y":{"field":"count","type":"quantitative","title":"Counts","scale":{"domain":[0,310],"nice":false},"axis":{"values":[0,15.5,31,46.5,62,77.5,93,108.5,124,139.5,155,170.5,186,201.5,217,232.5,248,263.5,279,294.5,310],"labelExpr":"datum.value % 77.5 == 0 ? '' + floor(datum.value) : ''","tickSize":{"condition":{"test":"datum.value % 77.5 == 0","value":7},"value":3}}}},
"layer":[
{"data":{"name":"d"},"mark":{"type":"area","color":"#0b8a31"}},
{"data":{"name":"iso"},"mark":{"type":"area","fill":{"gradient":"linear","x1":0,"y1":0,"x2":1.1593,"y2":0.2445,"stops":[{"offset":0,"color":"transparent"},{"offset":0.375,"color":"transparent"},{"offset":0.375,"color":"#f6a45c"},{"offset":0.3775,"color":"#f6a45c"},{"offset":0.3775,"color":"transparent"},{"offset":0.3875,"color":"transparent"},{"offset":0.3875,"color":"#f6a45c"},{"offset":0.39,"color":"#f6a45c"},{"offset":0.39,"color":"transparent"},{"offset":0.4,"color":"transparent"},{"offset":0.4,"color":"#f6a45c"},{"offset":0.4025,"color":"#f6a45c"},{"offset":0.4025,"color":"transparent"},{"offset":0.4125,"color":"transparent"},{"offset":0.4125,"color":"#f6a45c"},{"offset":0.415,"color":"#f6a45c"},{"offset":0.415,"color":"transparent"},{"offset":0.425,"color":"transparent"},{"offset":0.425,"color":"#f6a45c"},{"offset":0.4275,"color":"#f6a45c"},{"offset":0.4275,"color":"transparent"},{"offset":0.4375,"color":"transparent"},{"offset":0.4375,"color":"#f6a45c"},{"offset":0.44,"color":"#f6a45c"},{"offset":0.44,"color":"transparent"},{"offset":0.45,"color":"transparent"},{"offset":0.45,"color":"#f6a45c"},{"offset":0.4525,"color":"#f6a45c"},{"offset":0.4525,"color":"transparent"},{"offset":0.4625,"color":"transparent"},{"offset":0.4625,"color":"#f6a45c"},{"offset":0.465,"color":"#f6a45c"},{"offset":0.465,"color":"transparent"},{"offset":0.475,"color":"transparent"},{"offset":0.475,"color":"#f6a45c"},{"offset":0.4775,"color":"#f6a45c"},{"offset":0.4775,"color":"transparent"},{"offset":0.4875,"color":"transparent"},{"offset":0.4875,"color":"#f6a45c"},{"offset":0.49,"color":"#f6a45c"},{"offset":0.49,"color":"transparent"},{"offset":0.5,"color":"transparent"},{"offset":0.5,"color":"#f6a45c"},{"offset":0.5025,"color":"#f6a45c"},{"offset":0.5025,"color":"transparent"},{"offset":0.5125,"color":"transparent"},{"offset":0.5125,"color":"#f6a45c"},{"offset":0.515,"color":"#f6a45c"},{"offset":0.515,"color":"transparent"},{"offset":0.525,"color":"transparent"},{"offset":0.525,"color":"#f6a45c"},{"offset":0.5275,"color":"#f6a45c"},{"offset":0.5275,"color":"transparent"},{"offset":0.5375,"color":"transparent"},{"offset":0.5375,"color":"#f6a45c"},{"offset":0.54,"color":"#f6a45c"},{"offset":0.54,"color":"transparent"},{"offset":0.55,"color":"transparent"},{"offset":0.55,"color":"#f6a45c"},{"offset":0.5525,"color":"#f6a45c"},{"offset":0.5525,"color":"transparent"},{"offset":0.5625,"color":"transparent"},{"offset":0.5625,"color":"#f6a45c"},{"offset":0.565,"color":"#f6a45c"},{"offset":0.565,"color":"transparent"},{"offset":0.575,"color":"transparent"},{"offset":0.575,"color":"#f6a45c"},{"offset":0.5775,"color":"#f6a45c"},{"offset":0.5775,"color":"transparent"},{"offset":0.5875,"color":"transparent"},{"offset":0.5875,"color":"#f6a45c"},{"offset":0.59,"color":"#f6a45c"},{"offset":0.59,"color":"transparent"},{"offset":0.6,"color":"transparent"},{"offset":0.6,"color":"#f6a45c"},{"offset":0.6025,"color":"#f6a45c"},{"offset":0.6025,"color":"transparent"},{"offset":0.6125,"color":"transparent"},{"offset":0.6125,"color":"#f6a45c"},{"offset":0.615,"color":"#f6a45c"},{"offset":0.615,"color":"transparent"},{"offset":0.625,"color":"transparent"},{"offset":0.625,"color":"#f6a45c"},{"offset":0.6275,"color":"#f6a45c"},{"offset":0.6275,"color":"transparent"},{"offset":0.6375,"color":"transparent"},{"offset":0.6375,"color":"#f6a45c"},{"offset":0.64,"color":"#f6a45c"},{"offset":0.64,"color":"transparent"},{"offset":0.65,"color":"transparent"},{"offset":0.65,"color":"#f6a45c"},{"offset":0.6525,"color":"#f6a45c"},{"offset":0.6525,"color":"transparent"},{"offset":0.6625,"color":"transparent"},{"offset":0.6625,"color":"#f6a45c"},{"offset":0.665,"color":"#f6a45c"},{"offset":0.665,"color":"transparent"},{"offset":0.675,"color":"transparent"},{"offset":0.675,"color":"#f6a45c"},{"offset":0.6775,"color":"#f6a45c"},{"offset":0.6775,"color":"transparent"},{"offset":0.6875,"color":"transparent"},{"offset":0.6875,"color":"#f6a45c"},{"offset":0.69,"color":"#f6a45c"},{"offset":0.69,"color":"transparent"},{"offset":0.7,"color":"transparent"},{"offset":0.7,"color":"#f6a45c"},{"offset":0.7025,"color":"#f6a45c"},{"offset":0.7025,"color":"transparent"},{"offset":0.7125,"color":"transparent"},{"offset":0.7125,"color":"#f6a45c"},{"offset":0.715,"color":"#f6a45c"},{"offset":0.715,"color":"transparent"},{"offset":1,"color":"transparent"}]}}},
{"data":{"name":"iso"},"mark":{"type":"line","color":"#f58a1f","strokeWidth":2}}
]},
{"data":{"values":[{"label":"SMA"}]},"mark":{"type":"text"},"encoding":{"x":{"datum":8400,"type":"quantitative","title":null,"scale":{"type":"log","domain":[1,10000],"nice":false},"axis":{"values":[1,2,3,4,5,6,7,8,9,10,20,30,40,50,60,70,80,90,100,200,300,400,500,600,700,800,900,1000,2000,3000,4000,5000,6000,7000,8000,9000,10000],"labelExpr":"datum.value == 1 ? '10⁰' : datum.value == 10 ? '10¹' : datum.value == 100 ? '10²' : datum.value == 1000 ? '10³' : datum.value == 10000 ? '10⁴' : ''","tickSize":{"condition":{"test":"datum.value == 1 || datum.value == 10 || datum.value == 100 || datum.value == 1000 || datum.value == 10000","value":7},"value":4}}},"y":{"datum":252,"type":"quantitative","title":"Counts","scale":{"domain":[0,310],"nice":false},"axis":{"values":[0,15.5,31,46.5,62,77.5,93,108.5,124,139.5,155,170.5,186,201.5,217,232.5,248,263.5,279,294.5,310],"labelExpr":"datum.value % 77.5 == 0 ? '' + floor(datum.value) : ''","tickSize":{"condition":{"test":"datum.value % 77.5 == 0","value":7},"value":3}}},"text":{"field":"label"}}}
]},
{"width":624,"height":179,"title":{"text":"e"},
"layer":[
{"encoding":{"x":{"field":"channel","type":"quantitative","title":"Flow channel","scale":{"type":"log","domain":[1,10000],"nice":false},"axis":{"values":[1,2,3,4,5,6,7,8,9,10,20,30,40,50,60,70,80,90,100,200,300,400,500,600,700,800,900,1000,2000,3000,4000,5000,6000,7000,8000,9000,10000],"labelExpr":"datum.value == 1 ? '10⁰' : datum.value == 10 ? '10¹' : datum.value == 100 ? '10²' : datum.value == 1000 ? '10³' : datum.value == 10000 ? '10⁴' : ''","tickSize":{"condition":{"test":"datum.value == 1 || datum.value == 10 || datum.value == 100 || datum.value == 1000 || datum.value == 10000","value":7},"value":4},"titleColor":"#333333","titleFontSize":15,"titlePadding":9}},
"y":{"field":"count","type":"quantitative","title":"Counts","scale":{"domain":[0,310],"nice":false},"axis":{"values":[0,15.5,31,46.5,62,77.5,93,108.5,124,139.5,155,170.5,186,201.5,217,232.5,248,263.5,279,294.5,310],"labelExpr":"datum.value % 77.5 == 0 ? '' + floor(datum.value) : ''","tickSize":{"condition":{"test":"datum.value % 77.5 == 0","value":7},"value":3}}}},
"layer":[
{"data":{"name":"e"},"mark":{"type":"area","color":"#0b8a31"}},
{"data":{"name":"iso"},"mark":{"type":"area","fill":{"gradient":"linear","x1":0,"y1":0,"x2":1.1593,"y2":0.2445,"stops":[{"offset":0,"color":"transparent"},{"offset":0.375,"color":"transparent"},{"offset":0.375,"color":"#f6a45c"},{"offset":0.3775,"color":"#f6a45c"},{"offset":0.3775,"color":"transparent"},{"offset":0.3875,"color":"transparent"},{"offset":0.3875,"color":"#f6a45c"},{"offset":0.39,"color":"#f6a45c"},{"offset":0.39,"color":"transparent"},{"offset":0.4,"color":"transparent"},{"offset":0.4,"color":"#f6a45c"},{"offset":0.4025,"color":"#f6a45c"},{"offset":0.4025,"color":"transparent"},{"offset":0.4125,"color":"transparent"},{"offset":0.4125,"color":"#f6a45c"},{"offset":0.415,"color":"#f6a45c"},{"offset":0.415,"color":"transparent"},{"offset":0.425,"color":"transparent"},{"offset":0.425,"color":"#f6a45c"},{"offset":0.4275,"color":"#f6a45c"},{"offset":0.4275,"color":"transparent"},{"offset":0.4375,"color":"transparent"},{"offset":0.4375,"color":"#f6a45c"},{"offset":0.44,"color":"#f6a45c"},{"offset":0.44,"color":"transparent"},{"offset":0.45,"color":"transparent"},{"offset":0.45,"color":"#f6a45c"},{"offset":0.4525,"color":"#f6a45c"},{"offset":0.4525,"color":"transparent"},{"offset":0.4625,"color":"transparent"},{"offset":0.4625,"color":"#f6a45c"},{"offset":0.465,"color":"#f6a45c"},{"offset":0.465,"color":"transparent"},{"offset":0.475,"color":"transparent"},{"offset":0.475,"color":"#f6a45c"},{"offset":0.4775,"color":"#f6a45c"},{"offset":0.4775,"color":"transparent"},{"offset":0.4875,"color":"transparent"},{"offset":0.4875,"color":"#f6a45c"},{"offset":0.49,"color":"#f6a45c"},{"offset":0.49,"color":"transparent"},{"offset":0.5,"color":"transparent"},{"offset":0.5,"color":"#f6a45c"},{"offset":0.5025,"color":"#f6a45c"},{"offset":0.5025,"color":"transparent"},{"offset":0.5125,"color":"transparent"},{"offset":0.5125,"color":"#f6a45c"},{"offset":0.515,"color":"#f6a45c"},{"offset":0.515,"color":"transparent"},{"offset":0.525,"color":"transparent"},{"offset":0.525,"color":"#f6a45c"},{"offset":0.5275,"color":"#f6a45c"},{"offset":0.5275,"color":"transparent"},{"offset":0.5375,"color":"transparent"},{"offset":0.5375,"color":"#f6a45c"},{"offset":0.54,"color":"#f6a45c"},{"offset":0.54,"color":"transparent"},{"offset":0.55,"color":"transparent"},{"offset":0.55,"color":"#f6a45c"},{"offset":0.5525,"color":"#f6a45c"},{"offset":0.5525,"color":"transparent"},{"offset":0.5625,"color":"transparent"},{"offset":0.5625,"color":"#f6a45c"},{"offset":0.565,"color":"#f6a45c"},{"offset":0.565,"color":"transparent"},{"offset":0.575,"color":"transparent"},{"offset":0.575,"color":"#f6a45c"},{"offset":0.5775,"color":"#f6a45c"},{"offset":0.5775,"color":"transparent"},{"offset":0.5875,"color":"transparent"},{"offset":0.5875,"color":"#f6a45c"},{"offset":0.59,"color":"#f6a45c"},{"offset":0.59,"color":"transparent"},{"offset":0.6,"color":"transparent"},{"offset":0.6,"color":"#f6a45c"},{"offset":0.6025,"color":"#f6a45c"},{"offset":0.6025,"color":"transparent"},{"offset":0.6125,"color":"transparent"},{"offset":0.6125,"color":"#f6a45c"},{"offset":0.615,"color":"#f6a45c"},{"offset":0.615,"color":"transparent"},{"offset":0.625,"color":"transparent"},{"offset":0.625,"color":"#f6a45c"},{"offset":0.6275,"color":"#f6a45c"},{"offset":0.6275,"color":"transparent"},{"offset":0.6375,"color":"transparent"},{"offset":0.6375,"color":"#f6a45c"},{"offset":0.64,"color":"#f6a45c"},{"offset":0.64,"color":"transparent"},{"offset":0.65,"color":"transparent"},{"offset":0.65,"color":"#f6a45c"},{"offset":0.6525,"color":"#f6a45c"},{"offset":0.6525,"color":"transparent"},{"offset":0.6625,"color":"transparent"},{"offset":0.6625,"color":"#f6a45c"},{"offset":0.665,"color":"#f6a45c"},{"offset":0.665,"color":"transparent"},{"offset":0.675,"color":"transparent"},{"offset":0.675,"color":"#f6a45c"},{"offset":0.6775,"color":"#f6a45c"},{"offset":0.6775,"color":"transparent"},{"offset":0.6875,"color":"transparent"},{"offset":0.6875,"color":"#f6a45c"},{"offset":0.69,"color":"#f6a45c"},{"offset":0.69,"color":"transparent"},{"offset":0.7,"color":"transparent"},{"offset":0.7,"color":"#f6a45c"},{"offset":0.7025,"color":"#f6a45c"},{"offset":0.7025,"color":"transparent"},{"offset":0.7125,"color":"transparent"},{"offset":0.7125,"color":"#f6a45c"},{"offset":0.715,"color":"#f6a45c"},{"offset":0.715,"color":"transparent"},{"offset":1,"color":"transparent"}]}}},
{"data":{"name":"iso"},"mark":{"type":"line","color":"#f58a1f","strokeWidth":2}}
]},
{"data":{"values":[{"label":"Factor VIII"}]},"mark":{"type":"text"},"encoding":{"x":{"datum":8400,"type":"quantitative","title":"Flow channel","scale":{"type":"log","domain":[1,10000],"nice":false},"axis":{"values":[1,2,3,4,5,6,7,8,9,10,20,30,40,50,60,70,80,90,100,200,300,400,500,600,700,800,900,1000,2000,3000,4000,5000,6000,7000,8000,9000,10000],"labelExpr":"datum.value == 1 ? '10⁰' : datum.value == 10 ? '10¹' : datum.value == 100 ? '10²' : datum.value == 1000 ? '10³' : datum.value == 10000 ? '10⁴' : ''","tickSize":{"condition":{"test":"datum.value == 1 || datum.value == 10 || datum.value == 100 || datum.value == 1000 || datum.value == 10000","value":7},"value":4},"titleColor":"#333333","titleFontSize":15,"titlePadding":9}},"y":{"datum":252,"type":"quantitative","title":"Counts","scale":{"domain":[0,310],"nice":false},"axis":{"values":[0,15.5,31,46.5,62,77.5,93,108.5,124,139.5,155,170.5,186,201.5,217,232.5,248,263.5,279,294.5,310],"labelExpr":"datum.value % 77.5 == 0 ? '' + floor(datum.value) : ''","tickSize":{"condition":{"test":"datum.value % 77.5 == 0","value":7},"value":3}}},"text":{"field":"label"}}}
]}
]
}
